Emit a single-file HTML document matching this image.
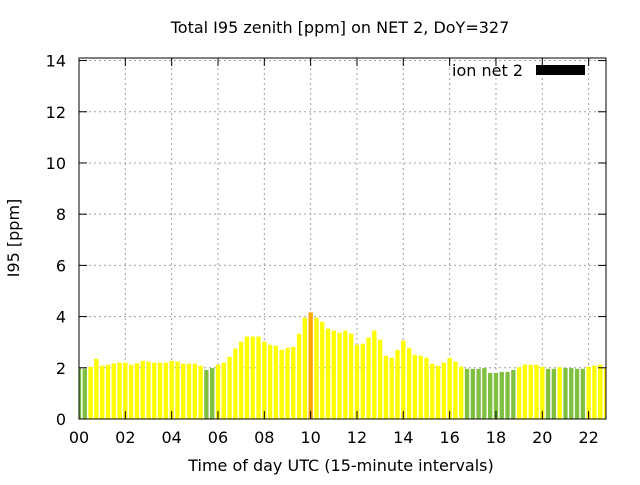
<!DOCTYPE html>
<html><head><meta charset="utf-8"><style>
body{margin:0;background:#fff}
svg text{font-family:"DejaVu Sans","Liberation Sans",sans-serif;font-size:16px;fill:#000}
</style></head><body>
<svg id="chart" width="640" height="480" xmlns="http://www.w3.org/2000/svg">
<rect width="640" height="480" fill="#fff"/>
<g id="grid"></g>
<g id="bars"></g>
<g id="axes"></g>
<text x="340" y="33" text-anchor="middle">Total I95 zenith [ppm] on NET 2, DoY=327</text>
<text x="341" y="471" text-anchor="middle">Time of day UTC (15-minute intervals)</text>
<text transform="translate(19,238) rotate(-90)" text-anchor="middle">I95 [ppm]</text>
<g>
<text x="523" y="76" text-anchor="end">ion net 2</text>
<rect x="536" y="65" width="49" height="10" fill="#000"/>
</g>
</svg>
<script>
const values = [1.98,1.96,2.04,2.35,2.08,2.12,2.17,2.2,2.2,2.12,2.17,2.27,2.24,2.2,2.2,2.2,2.27,2.24,2.16,2.16,2.16,2.08,1.92,1.99,
2.12,2.2,2.43,2.75,3.02,3.22,3.22,3.22,3.02,2.9,2.86,2.7,2.78,2.82,3.33,3.96,4.16,3.96,3.8,3.53,3.45,3.37,3.45,
3.33,2.9,2.94,3.18,3.45,3.1,2.47,2.39,2.7,3.06,2.78,2.51,2.47,2.39,2.16,2.08,2.2,2.39,2.24,2.04,
1.96,1.96,1.96,1.99,1.8,1.8,1.84,1.84,1.92,2.02,2.12,2.12,2.12,2.04,1.96,1.96,2.02,1.99,1.99,1.96,1.96,2.04,2.08,2.12,2.02];
const yTicks = [0,2,4,6,8,10,12,14];
const xTicks = [0,2,4,6,8,10,12,14,16,18,20,22];
const xTickLabels = ["00","02","04","06","08","10","12","14","16","18","20","22"];
const L=79,R=606,T=58,B=419,XMAX=22.75,YMAX=14.1;
const sx=h=>L+h/XMAX*(R-L);
const sy=v=>B-v/YMAX*(B-T);
const NS="http://www.w3.org/2000/svg";
function mk(tag,attrs,parent){const e=document.createElementNS(NS,tag);for(const k in attrs)e.setAttribute(k,attrs[k]);parent.appendChild(e);return e;}
const grid=document.getElementById('grid'),bars=document.getElementById('bars'),axes=document.getElementById('axes');
yTicks.forEach(v=>{
  const y=sy(v);
  if(v>0){const g=mk('line',{x1:L,x2:R,y1:y,y2:y,stroke:'#a0a0a0','stroke-dasharray':'2,3'},grid);
  
  }
  const t1=mk('line',{x1:L,x2:L+8,y1:y,y2:y,stroke:'#000'},axes);
  
  
  const t2=mk('line',{x1:R-8,x2:R,y1:y,y2:y,stroke:'#000'},axes);
  
  
  const tx=mk('text',{x:L-13,y:y+6,'text-anchor':'end'},axes);tx.textContent=v;
  
  
});
xTicks.forEach((h,i)=>{
  const x=sx(h);
  if(h>0){const g=mk('line',{x1:x,x2:x,y1:T,y2:B,stroke:'#a0a0a0','stroke-dasharray':'2,3'},grid);
  
  }
  const t1=mk('line',{x1:x,x2:x,y1:B-8,y2:B,stroke:'#000'},axes);
  
  
  const t2=mk('line',{x1:x,x2:x,y1:T,y2:T+8,stroke:'#000'},axes);
  
  
  const tx=mk('text',{x:x,y:B+24,'text-anchor':'middle'},axes);tx.textContent=xTickLabels[i];
  
  
});
const bw=(sx(0.25)-sx(0))*0.75;
values.forEach((v,i)=>{
  const c=sx(i*0.25);
  let x1=Math.max(L,c-bw/2),x2=Math.min(R,c+bw/2);
  if(x2<=x1)return;
  const col=v>=4?'#ffa500':(v<2?'#80c040':'#ffff00');
  const r=mk('rect',{x:x1,y:sy(v),width:x2-x1,height:B-sy(v),fill:col},bars);
  
  
});
const frame=mk('rect',{x:L,y:T,width:R-L,height:B-T,fill:'none',stroke:'#000','stroke-width':1},axes);


</script>
</body></html>
